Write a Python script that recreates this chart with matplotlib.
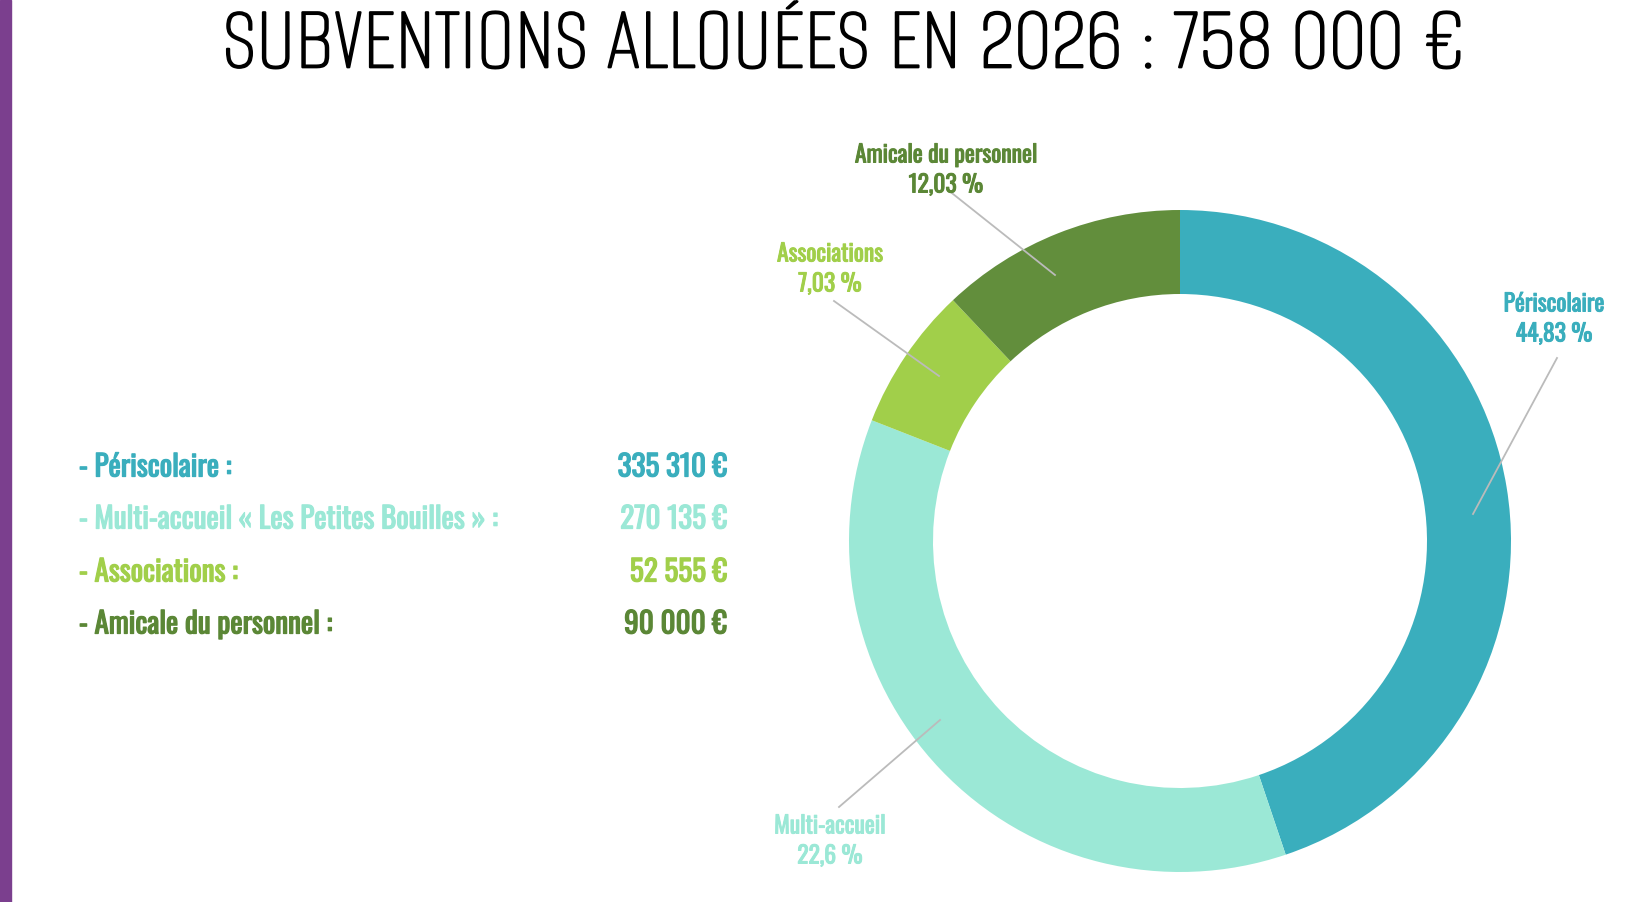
import matplotlib
matplotlib.use("Agg")
import matplotlib.pyplot as plt
import matplotlib.patheffects as pe
from matplotlib.patches import Rectangle

# data
categories = ["Périscolaire", "Multi-accueil", "Associations", "Amicale du personnel"]
amounts = [335310, 270135, 52555, 90000]
pct_labels = ["44,83 %", "22,6 %", "7,03 %", "12,03 %"]
list_labels = ["- Périscolaire :", "- Multi-accueil « Les Petites Bouilles » :",
               "- Associations :", "- Amicale du personnel :"]
amount_labels = ["335 310 €", "270 135 €", "52 555 €", "90 000 €"]
title = "SUBVENTIONS ALLOUÉES EN 2026 : 758 000 €"

colors = ["#3AAEBD", "#9BE8D6", "#A1CF4A", "#628E3C"]
text_colors = ["#3AAEBD", "#9BE8D6", "#A1CF4A", "#5B8736"]

W, H = 1628, 902
TITLE_FONT = ["Alumni Sans", "Big Shoulders Display", "Antonio", "DejaVu Sans"]
LABEL_FONT = ["Oswald", "Antonio", "DejaVu Sans"]


def bolder(col, lw=0.9):
    # the slide font is a heavier cut than the installed one
    return [pe.withStroke(linewidth=lw, foreground=col)]


fig = plt.figure(figsize=(W / 100, H / 100), dpi=100)
fig.patch.set_facecolor("white")

# donut, centre (1180, 541) px, outer radius 331 px, ring 84 px
cx, cy, r = 1180, 541, 331
pax = fig.add_axes([(cx - r) / W, (H - cy - r) / H, 2 * r / W, 2 * r / H])
pax.pie(amounts, colors=colors, startangle=90, counterclock=False, radius=1,
        wedgeprops=dict(width=84 / 331, linewidth=0))
pax.set_xlim(-1, 1)
pax.set_ylim(-1, 1)
pax.axis("off")

# overlay in pixel coordinates (y down)
ax = fig.add_axes([0, 0, 1, 1], zorder=5)
ax.set_xlim(0, W)
ax.set_ylim(H, 0)
ax.patch.set_alpha(0)
ax.axis("off")

ax.add_patch(Rectangle((0, 0), 11, H, color="#7B3F8E", clip_on=False))

ax.text(843, 43, title, family=TITLE_FONT, fontsize=67, ha="center", va="center",
        color="#000000", path_effects=bolder("#000000", 1.6))

# left list
ys = [467, 519, 572, 624]
for lab, amt, col, y in zip(list_labels, amount_labels, text_colors, ys):
    ax.text(79, y, lab, family=LABEL_FONT, fontsize=21, color=col, va="center", ha="left",
            path_effects=bolder(col))
    ax.text(727, y, amt, family=LABEL_FONT, fontsize=21, color=col, va="center", ha="right",
            path_effects=bolder(col))

# callouts: label centre, leader line start -> end
label_pos = [(1554, 319), (830, 841), (830, 269), (946, 170)]
lines = [((1557, 358), (1473, 514)), ((839, 807), (940, 720)),
         ((834, 301), (939, 376)), ((948, 190), (1055, 275))]
for cat, pct, col, (lx, ly), (p0, p1) in zip(categories, pct_labels, text_colors, label_pos, lines):
    ax.text(lx, ly - 15, cat, family=LABEL_FONT, fontsize=17, color=col,
            ha="center", va="center", path_effects=bolder(col, 0.7))
    ax.text(lx, ly + 15, pct, family=LABEL_FONT, fontsize=17, color=col,
            ha="center", va="center", path_effects=bolder(col, 0.7))
    ax.plot([p0[0], p1[0]], [p0[1], p1[1]], color="#BBBBBB", lw=1.3)

fig.savefig("out.png", dpi=100)
